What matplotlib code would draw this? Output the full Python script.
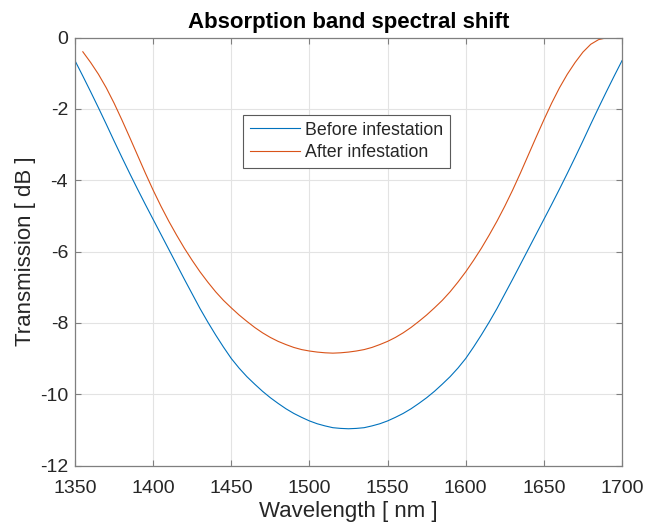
import numpy as np
import matplotlib.pyplot as plt

plt.rcParams['font.family'] = ['Liberation Sans', 'DejaVu Sans']
plt.rcParams['axes.unicode_minus'] = False

# wavelength [nm] and transmission [dB]
wl_before = list(range(1350, 1701, 5))
tr_before = [-0.65, -1.08, -1.52, -1.97, -2.43, -2.9, -3.36, -3.81, -4.25, -4.68,
             -5.1, -5.52, -5.94, -6.36, -6.78, -7.19, -7.6, -7.98, -8.34, -8.68,
             -9.0, -9.27, -9.51, -9.72, -9.92, -10.1, -10.26, -10.41, -10.54, -10.65,
             -10.75, -10.83, -10.89, -10.94, -10.96, -10.97,
             -10.96, -10.94, -10.89, -10.83, -10.75, -10.65, -10.54, -10.41, -10.26, -10.1,
             -9.92, -9.72, -9.51, -9.27, -9.0, -8.68, -8.34, -7.98, -7.6, -7.19,
             -6.78, -6.36, -5.94, -5.52, -5.1, -4.68, -4.25, -3.81, -3.36, -2.9,
             -2.43, -1.97, -1.52, -1.08, -0.65]

wl_after = list(range(1355, 1701, 5))
tr_after = [-0.4, -0.7, -1.03, -1.41, -1.84, -2.31, -2.8, -3.3, -3.8, -4.28,
            -4.73, -5.15, -5.54, -5.91, -6.25, -6.57, -6.86, -7.13, -7.37, -7.58,
            -7.78, -7.96, -8.13, -8.28, -8.41, -8.52, -8.61, -8.69, -8.75, -8.79,
            -8.82, -8.84, -8.85,
            -8.84, -8.82, -8.79, -8.75, -8.69, -8.61, -8.52, -8.41, -8.28, -8.13,
            -7.96, -7.78, -7.58, -7.37, -7.13, -6.86, -6.57, -6.25, -5.91, -5.54,
            -5.15, -4.73, -4.28, -3.8, -3.3, -2.8, -2.31, -1.84, -1.41, -1.03,
            -0.7, -0.41, -0.19, -0.06, -0.01, 0.0, 0.0]

fig = plt.figure(figsize=(6.47, 5.28), dpi=100)
ax = fig.add_axes([75/647, 62.5/528, 547/647, 428/528])

ax.plot(wl_before, tr_before, color='#0072BD', lw=0.8, label='Before infestation')
ax.plot(wl_after, tr_after, color='#D95319', lw=0.8, label='After infestation')

ax.set_xlim(1350, 1700)
ax.set_ylim(-12, 0)
ax.set_xticks(np.arange(1350, 1701, 50))
ax.set_yticks(np.arange(-12, 1, 2))
ax.grid(True, color='#e3e3e3', lw=0.8)
ax.set_axisbelow(True)
for s in ax.spines.values():
    s.set_color('#7f7f7f')
    s.set_linewidth(0.9)
ax.tick_params(direction='in', top=True, right=True, length=4, width=0.8,
               color='#7f7f7f', labelsize=14, labelcolor='#262626')
ax.tick_params(axis='x', pad=10.5)
ax.tick_params(axis='y', pad=5)

ax.set_xlabel('Wavelength [ nm ]', fontsize=16, color='#262626', labelpad=3)
ax.set_ylabel('Transmission [ dB ]', fontsize=16, color='#262626', labelpad=3)
ax.set_title('Absorption band spectral shift', fontsize=16, fontweight='bold', pad=7)

leg = ax.legend(loc='upper left', bbox_to_anchor=(0.307, 0.82), fontsize=12.8,
                frameon=True, fancybox=False, framealpha=1, edgecolor='#5a5a5a',
                handlelength=2.8, handletextpad=0.3, borderpad=0.4, labelspacing=0.3,
                borderaxespad=0)
leg.get_frame().set_linewidth(0.8)
for t in leg.get_texts():
    t.set_color('#262626')

fig.savefig('out.png', dpi=100)
